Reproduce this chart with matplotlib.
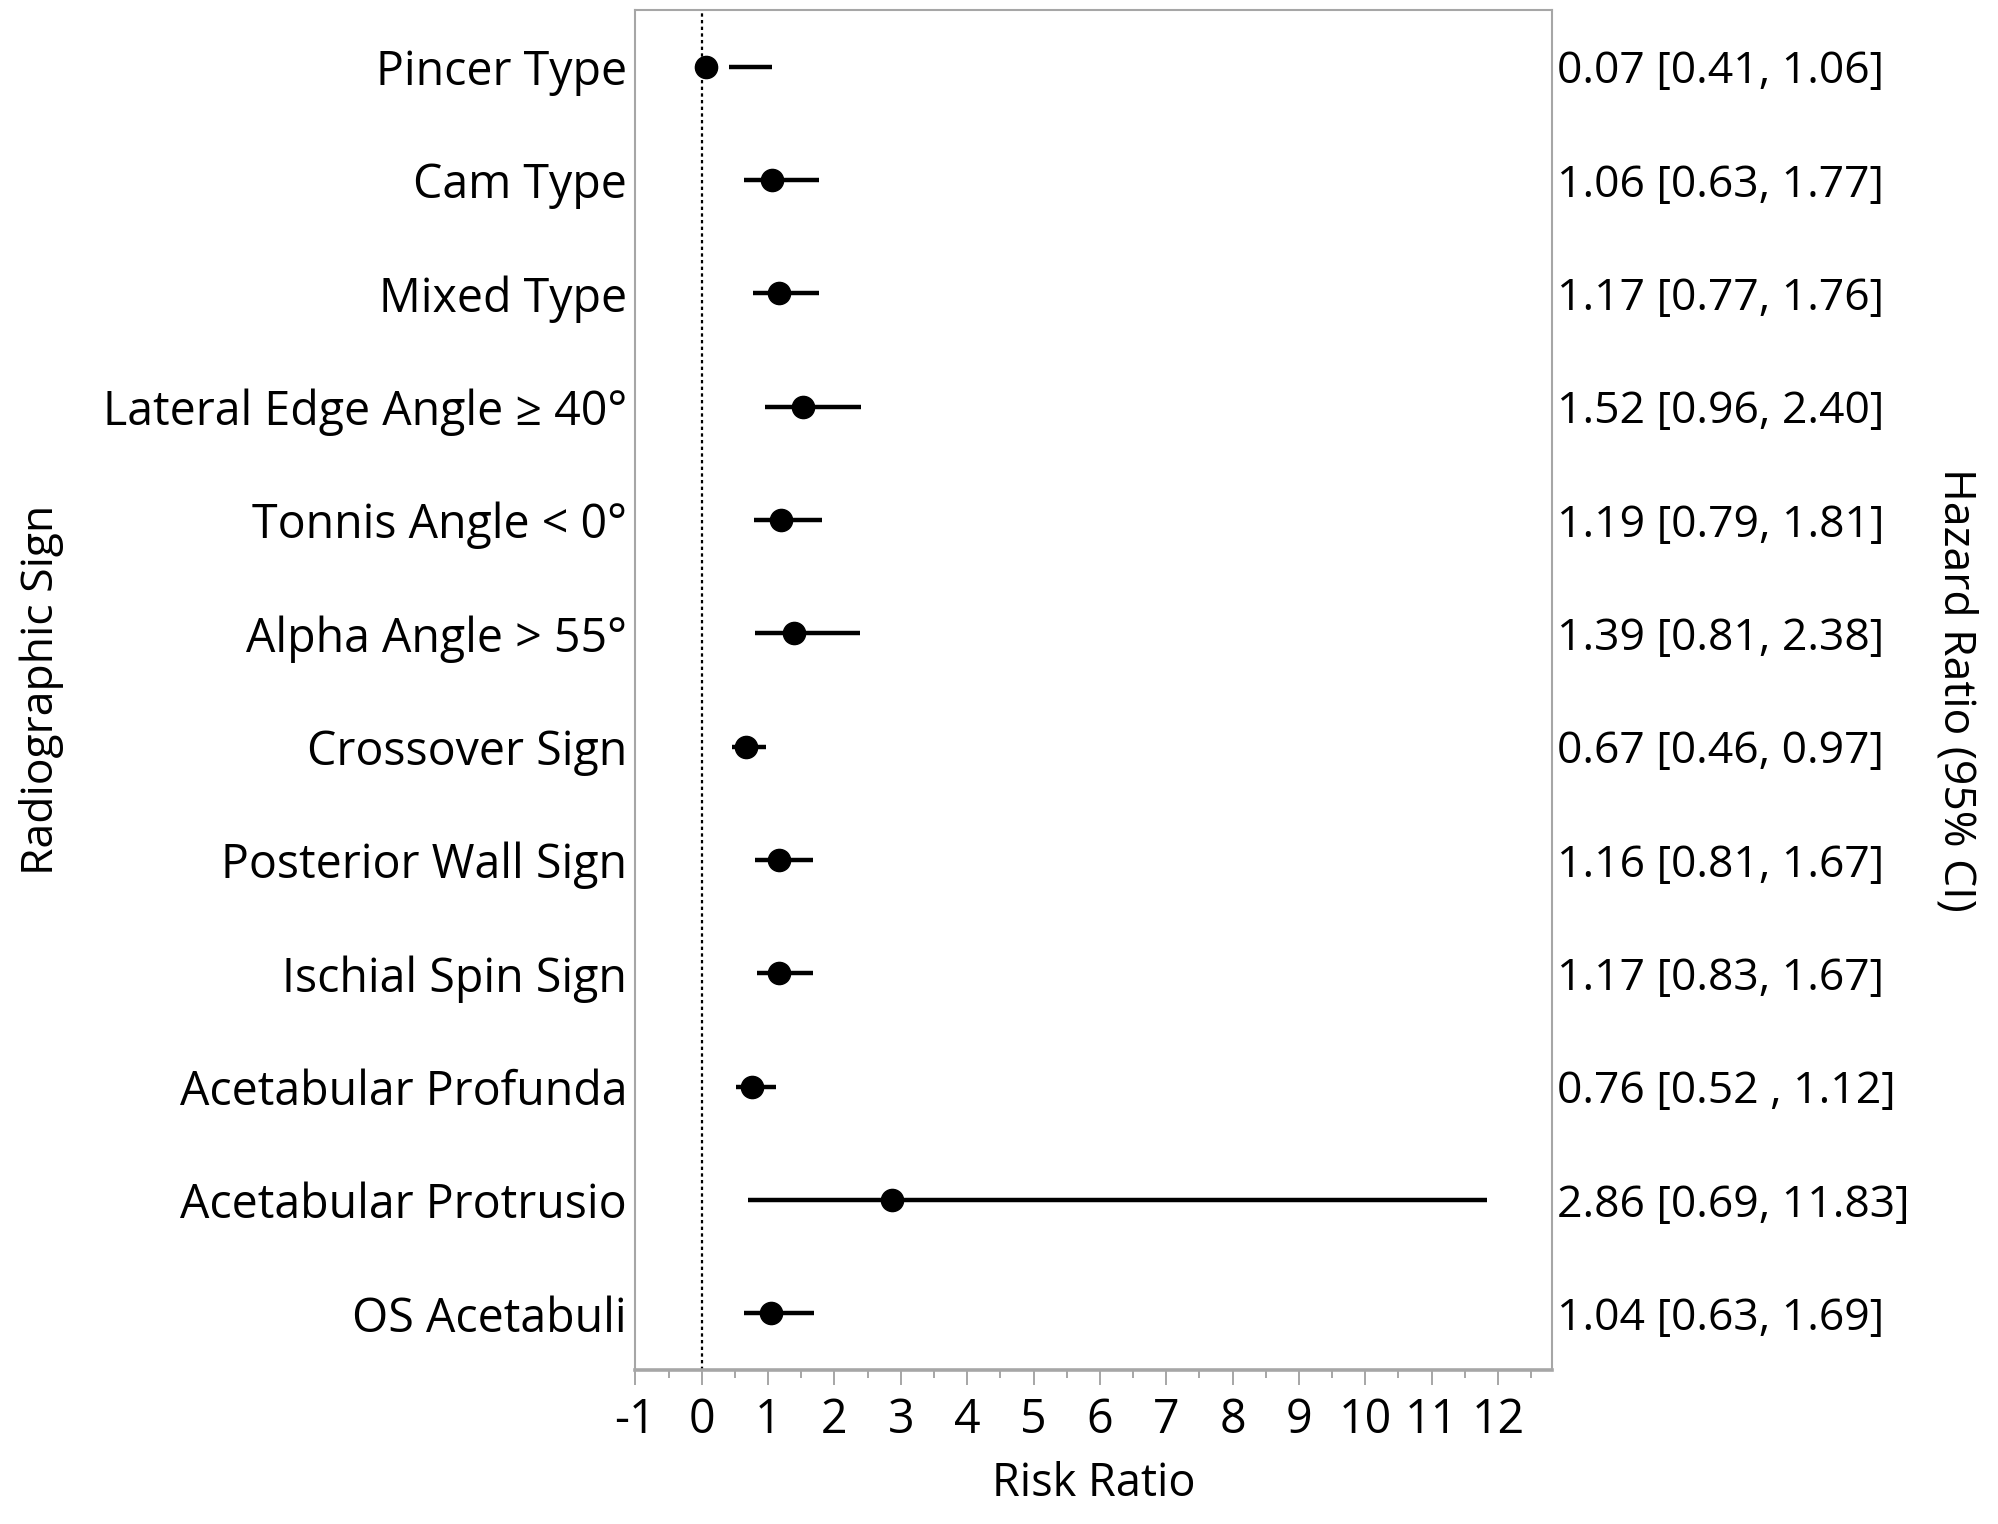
import matplotlib
matplotlib.use("Agg")
import matplotlib.pyplot as plt
from matplotlib.ticker import MultipleLocator

signs = ["Pincer Type", "Cam Type", "Mixed Type", "Lateral Edge Angle \u2265 40\u00b0",
         "Tonnis Angle < 0\u00b0", "Alpha Angle > 55\u00b0", "Crossover Sign",
         "Posterior Wall Sign", "Ischial Spin Sign", "Acetabular Profunda",
         "Acetabular Protrusio", "OS Acetabuli"]
hr = [0.07, 1.06, 1.17, 1.52, 1.19, 1.39, 0.67, 1.16, 1.17, 0.76, 2.86, 1.04]
lo = [0.41, 0.63, 0.77, 0.96, 0.79, 0.81, 0.46, 0.81, 0.83, 0.52, 0.69, 0.63]
hi = [1.06, 1.77, 1.76, 2.40, 1.81, 2.38, 0.97, 1.67, 1.67, 1.12, 11.83, 1.69]
ci_text = ["0.07 [0.41, 1.06]", "1.06 [0.63, 1.77]", "1.17 [0.77, 1.76]",
           "1.52 [0.96, 2.40]", "1.19 [0.79, 1.81]", "1.39 [0.81, 2.38]",
           "0.67 [0.46, 0.97]", "1.16 [0.81, 1.67]", "1.17 [0.83, 1.67]",
           "0.76 [0.52 , 1.12]", "2.86 [0.69, 11.83]", "1.04 [0.63, 1.69]"]

plt.rcParams['font.family'] = ['Open Sans', 'DejaVu Sans']
fs = 31
grey = "#a6a6a6"

fig = plt.figure(figsize=(19.98, 15.24), dpi=100)
ax = fig.add_axes([0.318, 0.101, 0.459, 0.8925])

ypos = list(range(len(signs)))
ax.axvline(0, color="black", linestyle=(0, (1.5, 1.5)), linewidth=1.6, zorder=1)
ax.hlines(ypos, lo, hi, color="black", linewidth=3.2, zorder=2)
ax.plot(hr, ypos, "o", color="black", markersize=16, zorder=3)

ax.set_xlim(-1, 12.82)
ax.set_ylim(len(signs) - 0.5, -0.5)
ax.xaxis.set_major_locator(MultipleLocator(1))
ax.xaxis.set_minor_locator(MultipleLocator(0.5))
ax.set_xticks(range(-1, 13))
ax.set_xticklabels([str(v) for v in range(-1, 13)], fontsize=33.5)
ax.set_yticks(ypos)
ax.set_yticklabels(signs, fontsize=33.5, va="center_baseline")
ax.tick_params(axis="y", length=0, pad=6)
ax.tick_params(axis="x", which="major", length=11, width=1.4, color=grey, pad=8)
ax.tick_params(axis="x", which="minor", length=6, width=1.4, color=grey)

for s in ["left", "right", "top"]:
    ax.spines[s].set_color(grey)
    ax.spines[s].set_linewidth(1.5)
ax.spines["bottom"].set_color(grey)
ax.spines["bottom"].set_linewidth(2.6)

for y, t in zip(ypos, ci_text):
    ax.text(1.005, y, t, transform=ax.get_yaxis_transform(), ha="left",
            va="center_baseline", fontsize=32, clip_on=False)

ax.set_xlabel("Risk Ratio", fontsize=32.5, labelpad=12)
fig.text(0.021, 0.547, "Radiographic Sign", rotation=90, ha="center", va="center", fontsize=32)
fig.text(0.979, 0.547, "Hazard Ratio (95% CI)", rotation=-90, ha="center", va="center", fontsize=32)

fig.savefig("out.png", dpi=100)
